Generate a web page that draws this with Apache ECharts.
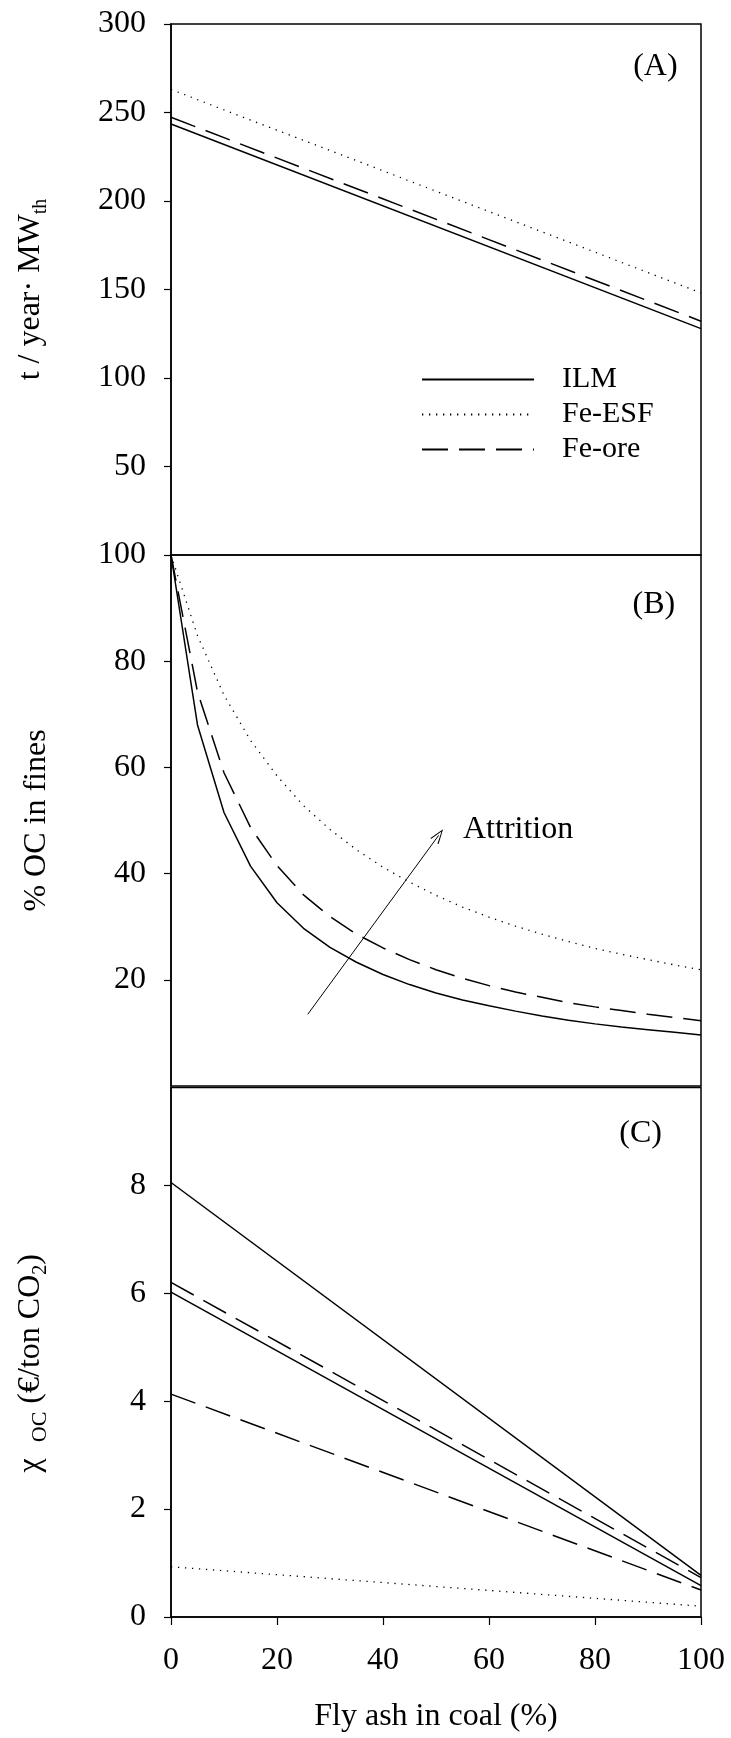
<!DOCTYPE html>
<html>
<head>
<meta charset="utf-8">
<script src="https://cdn.jsdelivr.net/npm/echarts@6/dist/echarts.min.js"></script>
<style>
    html, body { margin: 0; padding: 0; background: #fff; }
    #chart { width: 731px; height: 1738px; }
</style>
</head>
<body>
<div id="chart"></div>
<script>
// ---- (A) t / year MWth
var ashA = [0, 100];
var ilmA = [243.5, 127.9];
var esfA = [263.0, 148.1];
var oreA = [247.3, 132.1];

// ---- (B) % OC in fines
var ashB = [0, 5, 10, 15, 20, 25, 30, 35, 40, 45, 50, 55, 60, 65, 70, 75, 80, 85, 90, 95, 100];
var ilmB = [100, 68.0, 51.5, 41.4, 34.5, 29.7, 26.1, 23.3, 21.0, 19.1, 17.5, 16.2, 15.1, 14.1, 13.2, 12.4, 11.7, 11.1, 10.6, 10.1, 9.6];
var esfB = [100, 84.8, 73.6, 65.1, 58.4, 52.8, 48.3, 44.5, 41.2, 38.4, 35.9, 33.7, 31.8, 30.1, 28.6, 27.2, 25.9, 24.8, 23.8, 22.8, 21.9];
var oreB = [100, 74.2, 59.0, 48.7, 41.5, 36.0, 31.9, 28.6, 26.0, 23.8, 21.9, 20.3, 18.9, 17.7, 16.7, 15.7, 14.9, 14.2, 13.5, 12.9, 12.3];
var arrowFrom = [25.8, 13.5];
var arrowTo = [50.5, 47.2];

// ---- (C) chi OC
var ashC = [0, 100];
var ilmC1 = [8.05, 0.77];
var ilmC2 = [6.02, 0.58];
var oreC1 = [6.20, 0.73];
var oreC2 = [4.13, 0.50];
var esfC = [0.93, 0.20];

var FONT = "'Liberation Serif', 'Times New Roman', serif";
var SOLID = { color: '#000', width: 1.5, type: 'solid' };
var DOT = { color: '#000', width: 1.3, type: [1.3, 5.7] };
var DASH = { color: '#000', width: 1.5, type: [26, 11] };

function pairs(xs, ys) {
    return xs.map(function (x, i) { return [x, ys[i]]; });
}

function line(name, idx, xs, ys, style) {
    return {
        name: name,
        type: 'line',
        xAxisIndex: idx,
        yAxisIndex: idx,
        data: pairs(xs, ys),
        symbol: 'none',
        lineStyle: style,
        itemStyle: { color: '#000' },
        silent: true
    };
}

function note(text, coord, pos) {
    return {
        symbol: 'circle',
        symbolSize: 1,
        itemStyle: { color: 'rgba(0,0,0,0)' },
        label: {
            show: true,
            position: pos || 'inside',
            distance: 0,
            formatter: text,
            color: '#000',
            fontSize: 32,
            fontFamily: FONT
        },
        data: [{ coord: coord }]
    };
}

var grids = [
    { left: 171, right: 30, top: 24, height: 531 },
    { left: 171, right: 30, top: 555, height: 531 },
    { left: 171, right: 30, top: 1087.5, height: 529.5 }
];
grids.forEach(function (g) {
    g.show = true;
    g.borderColor = '#000';
    g.borderWidth = 1.5;
    g.backgroundColor = 'transparent';
});

function xAx(idx, showIt) {
    return {
        type: 'value', gridIndex: idx, min: 0, max: 100, interval: 20,
        splitLine: { show: false },
        axisLine: { show: showIt, onZero: false, lineStyle: { color: '#000', width: 1.5 } },
        axisTick: { show: showIt, inside: false, length: 8, lineStyle: { color: '#000', width: 1.2 } },
        axisLabel: { show: showIt, margin: 28, color: '#000', fontSize: 32, fontFamily: FONT },
        name: showIt ? 'Fly ash in coal (%)' : '',
        nameLocation: 'middle',
        nameGap: 84,
        nameTextStyle: { color: '#000', fontSize: 32, fontFamily: FONT }
    };
}

function yAx(idx, max, interval, name, gap, extra) {
    var ax = {
        type: 'value', gridIndex: idx, min: 0, max: max, interval: interval,
        splitLine: { show: false },
        axisLine: { show: true, onZero: false, lineStyle: { color: '#000', width: 1.5 } },
        axisTick: { show: true, inside: false, length: 7, lineStyle: { color: '#000', width: 1.2 } },
        axisLabel: {
            margin: 25, color: '#000', fontSize: 32, fontFamily: FONT,
            showMinLabel: idx === 2, showMaxLabel: idx !== 2
        },
        name: name,
        nameLocation: 'middle',
        nameGap: gap,
        nameTextStyle: extra
    };
    return ax;
}

var nameBase = { color: '#000', fontSize: 32, fontFamily: FONT };

var option = {
    animation: false,
    backgroundColor: '#fff',
    grid: grids,
    xAxis: [xAx(0, false), xAx(1, false), xAx(2, true)],
    yAxis: [
        yAx(0, 300, 50, '{a|t / year· MW}{s|th}', 120, {
            color: '#000', fontFamily: FONT,
            rich: {
                a: { fontSize: 32, fontFamily: FONT, color: '#000', lineHeight: 40 },
                s: { fontSize: 20, fontFamily: FONT, color: '#000', verticalAlign: 'bottom', lineHeight: 40 }
            }
        }),
        yAx(1, 100, 20, '% OC in fines', 118, nameBase),
        yAx(2, 9.81, 2, '{a|χ  }{s|OC}{a| (€/ton CO}{b|2}{a|)}', 120, {
            color: '#000', fontFamily: FONT,
            padding: [0, 22, 0, 0],
            rich: {
                a: { fontSize: 32, fontFamily: FONT, color: '#000', lineHeight: 40 },
                s: { fontSize: 22, fontFamily: FONT, color: '#000', verticalAlign: 'bottom', lineHeight: 36 },
                b: { fontSize: 20, fontFamily: FONT, color: '#000', verticalAlign: 'bottom', lineHeight: 40 }
            }
        })
    ],
    legend: {
        data: ['ILM', 'Fe-ESF', 'Fe-ore'],
        orient: 'vertical',
        left: 416,
        top: 357,
        itemWidth: 112,
        itemHeight: 14,
        itemGap: 0,
        selectedMode: false,
        itemStyle: { opacity: 0, borderWidth: 0, color: 'rgba(0,0,0,0)' },
        textStyle: { color: '#000', fontSize: 30, fontFamily: FONT, lineHeight: 35, padding: [0, 0, 0, 23] }
    },
    series: [
        (function () {
            var s = line('ILM', 0, ashA, ilmA, SOLID);
            s.markPoint = note('(A)', [91.4, 275.7]);
            return s;
        })(),
        line('Fe-ESF', 0, ashA, esfA, DOT),
        line('Fe-ore', 0, ashA, oreA, DASH),

        (function () {
            var s = line('ILM', 1, ashB, ilmB, SOLID);
            s.markPoint = note('(B)', [91.1, 90.6]);
            s.markLine = {
                silent: true,
                symbol: ['none', 'path://M5,0 L10,14 L9,14.6 L5,2.6 L1,14.6 L0,14 Z'],
                symbolSize: [10, 15],
                lineStyle: { color: '#000', width: 1, type: 'solid' },
                label: { show: false },
                data: [[{ coord: arrowFrom }, { coord: arrowTo }]]
            };
            return s;
        })(),
        (function () {
            var s = line('Fe-ESF', 1, ashB, esfB, DOT);
            s.markPoint = note('Attrition', [55.0, 48.2], 'right');
            return s;
        })(),
        line('Fe-ore', 1, ashB, oreB, DASH),

        (function () {
            var s = line('ILM', 2, ashC, ilmC1, SOLID);
            s.markPoint = note('(C)', [88.6, 8.95]);
            return s;
        })(),
        line('ILM', 2, ashC, ilmC2, SOLID),
        line('Fe-ore', 2, ashC, oreC1, DASH),
        line('Fe-ore', 2, ashC, oreC2, DASH),
        line('Fe-ESF', 2, ashC, esfC, DOT)
    ]
};

var chart = echarts.init(document.getElementById('chart'), null, { renderer: 'canvas' });
chart.setOption(option);
</script>
</body>
</html>
